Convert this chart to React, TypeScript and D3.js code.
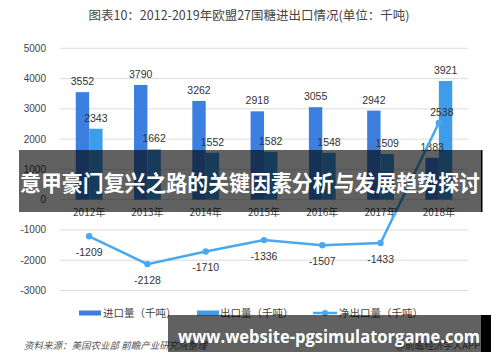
import React from "react";
import * as d3 from "d3";

// chart data
const years = ["2012年", "2013年", "2014年", "2015年", "2016年", "2017年", "2018年"];
const imports = [3552, 3790, 3262, 2918, 3055, 2942, 1383];
const exports = [2343, 1662, 1552, 1582, 1548, 1509, 3921];
const net = [-1209, -2128, -1710, -1336, -1507, -1433, 2538];
const yTicks = [-3000, -2000, -1000, 0, 1000, 2000, 3000, 4000, 5000];

const seriesNames = ["进口量（千吨）", "出口量（千吨）", "净出口量（千吨）"];
const title = "图表10：2012-2019年欧盟27国糖进出口情况(单位：千吨)";
const source = "资料来源：美国农业部 前瞻产业研究院整理";

const W = 500;
const H = 362;
const FONT = "'Liberation Sans', 'Noto Sans CJK SC', sans-serif";
const CJK = "'Noto Sans CJK SC', sans-serif";
const C_IMP = "#3b80e0";
const C_EXP = "#3d9deb";
const C_NET = "#4aa8f0";

function App() {
  const x = d3.scaleBand().domain(years).range([60, 468]).paddingInner(0.54).paddingOuter(0.27);
  const x1 = d3.scaleBand().domain(["imp", "exp"]).range([0, x.bandwidth()]);
  const y = d3.scaleLinear().domain([-3000, 5000]).range([290.5, 48.3]);

  const cx = (d: string) => (x(d) as number) + x.bandwidth() / 2;

  const line = d3
    .line<number>()
    .x((d, i) => cx(years[i]))
    .y((d) => y(d));

  return (
    <svg width={W} height={H} style={{ position: "absolute", left: 0, top: 0, background: "#fff" }}>
      {/* title */}
      <text x={249} y={19.5} textAnchor="middle" fontFamily={CJK} fontSize={12.5} fill="#444">
        {title}
      </text>

      {/* gridlines + y axis */}
      {yTicks.map((t) => (
        <g key={t}>
          <line x1={60} x2={468} y1={y(t)} y2={y(t)} stroke="#dcdcdc" strokeWidth={1} />
          <text x={46} y={y(t) + 3.5} textAnchor="end" fontFamily={FONT} fontSize={10} fill="#444">
            {t}
          </text>
        </g>
      ))}

      {/* bars */}
      {years.map((yr, i) => {
        const bx = x(yr) as number;
        return (
          <g key={yr}>
            <rect
              x={bx + (x1("imp") as number)}
              y={y(imports[i])}
              width={x1.bandwidth()}
              height={y(0) - y(imports[i])}
              fill={C_IMP}
            />
            <rect
              x={bx + (x1("exp") as number)}
              y={y(exports[i])}
              width={x1.bandwidth()}
              height={y(0) - y(exports[i])}
              fill={C_EXP}
            />
            <text
              x={bx + (x1("imp") as number) + x1.bandwidth() / 2}
              y={y(imports[i]) - 7}
              textAnchor="middle"
              fontFamily={FONT}
              fontSize={10.5}
              fill="#333"
            >
              {imports[i]}
            </text>
            <text
              x={bx + (x1("exp") as number) + x1.bandwidth() / 2}
              y={y(exports[i]) - 7}
              textAnchor="middle"
              fontFamily={FONT}
              fontSize={10.5}
              fill="#333"
            >
              {exports[i]}
            </text>
          </g>
        );
      })}

      {/* x labels */}
      {years.map((yr) => (
        <text key={yr} x={cx(yr)} y={216} textAnchor="middle" fontFamily={CJK} fontSize={10} fill="#444">
          {yr}
        </text>
      ))}

      {/* net line */}
      <path d={line(net) as string} fill="none" stroke={C_NET} strokeWidth={2.5} />
      {net.map((v, i) => (
        <g key={i}>
          <circle cx={cx(years[i])} cy={y(v)} r={3.2} fill={C_NET} />
          <text
            x={cx(years[i]) + (v > 0 ? 3 : 0)}
            y={v > 0 ? y(v) - 7 : y(v) + 20}
            textAnchor="middle"
            fontFamily={FONT}
            fontSize={10.5}
            fill="#333"
          >
            {v}
          </text>
        </g>
      ))}

      {/* legend */}
      <rect x={79} y={310.5} width={22} height={5} fill={C_IMP} />
      <text x={103} y={317} fontFamily={CJK} fontSize={10.5} fill="#444">
        {seriesNames[0]}
      </text>
      <rect x={197} y={310.5} width={22} height={5} fill={C_EXP} />
      <text x={220} y={317} fontFamily={CJK} fontSize={10.5} fill="#444">
        {seriesNames[1]}
      </text>
      <line x1={313} x2={337} y1={313} y2={313} stroke={C_NET} strokeWidth={2.5} />
      <circle cx={325} cy={313} r={3} fill={C_NET} />
      <text x={339} y={317} fontFamily={CJK} fontSize={10.5} fill="#444">
        {seriesNames[2]}
      </text>

      {/* source */}
      <text x={24} y={349} fontFamily={CJK} fontSize={9.5} fontStyle="italic" fill="#555">
        {source}
      </text>
      <text x={480} y={349} textAnchor="end" fontFamily={CJK} fontSize={9.5} fill="#555">
        @前瞻经济学人APP
      </text>

      {/* overlay banners */}
      <rect x={19} y={150} width={463} height={62} fill="#000" opacity={0.62} />
      <rect x={481} y={150} width={1.5} height={62} fill="#000" />
      <text
        x={250}
        y={190.5}
        textAnchor="middle"
        fontFamily={CJK}
        fontWeight="bold"
        fontSize={22}
        fill="#fff"
        textLength={460}
        lengthAdjust="spacingAndGlyphs"
      >
        意甲豪门复兴之路的关键因素分析与发展趋势探讨
      </text>

      <rect x={168} y={315} width={313} height={37} fill="#000" opacity={0.62} />
      <rect x={481} y={315} width={10} height={37} fill="#000" />
      <text
        x={329}
        y={343}
        textAnchor="middle"
        fontFamily="'Open Sans', 'DejaVu Sans', sans-serif"
        fontWeight="bold"
        fontSize={17}
        fill="#fff"
        textLength={302}
        lengthAdjust="spacingAndGlyphs"
      >
        www.website-pgsimulatorgame.com
      </text>
    </svg>
  );
}

export default App;
